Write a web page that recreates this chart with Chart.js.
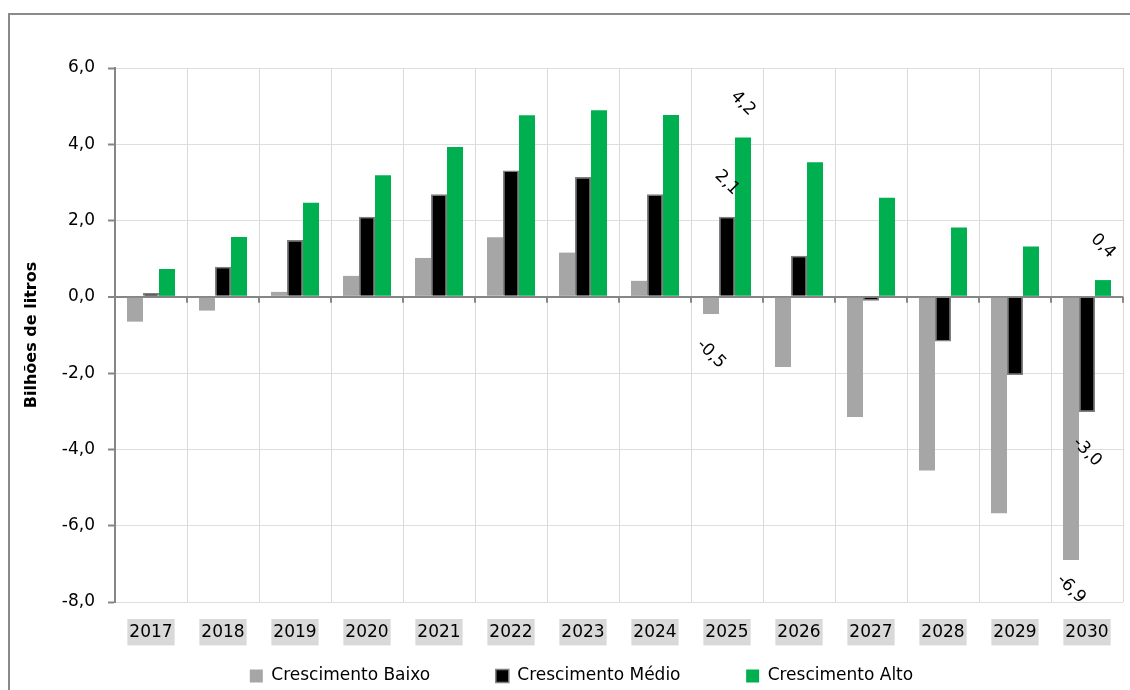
<!DOCTYPE html>
<html>
<head>
<meta charset="utf-8">
<script src="https://cdn.jsdelivr.net/npm/chart.js@4/dist/chart.umd.min.js"></script>
<style>
    html, body { margin: 0; padding: 0; background: #fff; }
    #wrap { position: relative; width: 1130px; height: 690px; }
    #frame { position: absolute; left: 8px; top: 13px; right: 0; bottom: 0;
             border-top: 2px solid #8a8a8a; border-left: 2px solid #8a8a8a; }
    canvas { position: absolute; left: 0; top: 0; }
</style>
</head>
<body>
<div id="wrap">
    <div id="frame"></div>
    <canvas id="chart" width="1130" height="690"></canvas>
</div>
<script>
const years = ['2017', '2018', '2019', '2020', '2021', '2022', '2023', '2024', '2025', '2026', '2027', '2028', '2029', '2030'];
const baixo = [-0.65, -0.36, 0.13, 0.55, 1.02, 1.56, 1.16, 0.42, -0.45, -1.84, -3.15, -4.55, -5.67, -6.9];
const medio = [0.1, 0.79, 1.49, 2.1, 2.69, 3.31, 3.14, 2.69, 2.1, 1.08, -0.1, -1.17, -2.05, -3.02];
const alto = [0.73, 1.57, 2.47, 3.19, 3.93, 4.76, 4.89, 4.77, 4.18, 3.53, 2.6, 1.82, 1.32, 0.44];
// only these years carry value labels
const labelledYears = ['2025', '2030'];

const fmt = v => v.toFixed(1).replace('.', ',');
const FONT = 'DejaVu Sans';
const GAP = '\u00a0'.repeat(9);

// small tick marks hanging from the zero line at category edges
const zeroTicks = {
    id: 'zeroTicks',
    afterDatasetsDraw(chart) {
        const xs = chart.scales.x, ys = chart.scales.y;
        const y0 = ys.getPixelForValue(0);
        const ctx = chart.ctx;
        ctx.save();
        ctx.strokeStyle = '#868686';
        ctx.lineWidth = 2;
        for (let i = 0; i <= years.length; i++) {
            const x = Math.round(xs.getPixelForValue(i - 0.5));
            ctx.beginPath();
            ctx.moveTo(x, y0);
            ctx.lineTo(x, y0 + 6);
            ctx.stroke();
        }
        ctx.restore();
    }
};

// rotated value labels for the selected years
const valueLabels = {
    id: 'valueLabels',
    afterDatasetsDraw(chart) {
        const ctx = chart.ctx;
        const bottom = chart.chartArea.bottom;
        ctx.save();
        ctx.font = '17px "' + FONT + '"';
        ctx.fillStyle = '#000';
        ctx.textAlign = 'center';
        ctx.textBaseline = 'middle';
        chart.data.datasets.forEach((ds, di) => {
            const meta = chart.getDatasetMeta(di);
            labelledYears.forEach(yr => {
                const idx = years.indexOf(yr);
                const bar = meta.data[idx];
                const v = ds.data[idx];
                let y = v >= 0 ? bar.y - 34 : Math.min(bar.y + 40, bottom - 13);
                ctx.save();
                ctx.translate(bar.x, y);
                ctx.rotate(Math.PI / 4);
                ctx.fillText(fmt(v), 0, 0);
                ctx.restore();
            });
        });
        ctx.restore();
    }
};

// nudge the legend row to the right, as in the original
const legendShift = {
    id: 'legendShift',
    afterLayout(chart) {
        chart.legend.left += 16;
        chart.legend.right += 16;
    }
};

new Chart(document.getElementById('chart'), {
    type: 'bar',
    data: {
        labels: years,
        datasets: [
            { label: 'Crescimento Baixo', data: baixo, backgroundColor: '#a6a6a6', borderWidth: 0 },
            { label: 'Crescimento Médio', data: medio, backgroundColor: '#000000', borderColor: '#7f7f7f', borderWidth: 1.5 },
            { label: 'Crescimento Alto', data: alto, backgroundColor: '#00b050', borderWidth: 0 }
        ]
    },
    options: {
        responsive: false,
        animation: false,
        devicePixelRatio: 1,
        categoryPercentage: 0.667,
        barPercentage: 1,
        layout: { padding: { top: 68, left: 8, right: 7, bottom: 0 } },
        plugins: {
            legend: {
                position: 'bottom',
                maxHeight: 39.5,
                labels: {
                    font: { family: FONT, size: 17 },
                    color: '#000',
                    boxWidth: 13,
                    boxHeight: 13,
                    padding: 17,
                    generateLabels: chart => {
                        const items = Chart.defaults.plugins.legend.labels.generateLabels(chart);
                        items.forEach((it, i) => { if (i < items.length - 1) it.text += GAP; });
                        return items;
                    }
                }
            },
            tooltip: { enabled: false }
        },
        scales: {
            x: {
                grid: { color: '#d9d9d9', lineWidth: 1, drawTicks: false },
                border: { display: false },
                ticks: {
                    font: { family: FONT, size: 17 },
                    color: '#000',
                    padding: 20,
                    maxRotation: 0,
                    autoSkip: false,
                    showLabelBackdrop: true,
                    backdropColor: '#d9d9d9',
                    backdropPadding: { x: 2, y: 3 }
                },
                afterFit: s => { s.height = 48.5; }
            },
            y: {
                min: -8,
                max: 6,
                grid: {
                    color: c => c.tick && c.tick.value === 0 ? '#868686' : '#dedede',
                    lineWidth: c => c.tick && c.tick.value === 0 ? 2 : 1,
                    tickColor: '#868686',
                    tickLength: 7,
                    tickWidth: 2
                },
                border: { display: true, color: '#868686', width: 2 },
                ticks: {
                    stepSize: 2,
                    font: { family: FONT, size: 17 },
                    color: '#000',
                    padding: 13,
                    callback: v => fmt(v)
                },
                title: {
                    display: true,
                    text: 'Bilhões de litros',
                    font: { family: FONT, size: 16, weight: 'bold' },
                    color: '#000',
                    padding: { top: 14, bottom: 0 }
                },
                afterFit: s => { s.width = 107; }
            }
        }
    },
    plugins: [zeroTicks, valueLabels, legendShift]
});
</script>
</body>
</html>
